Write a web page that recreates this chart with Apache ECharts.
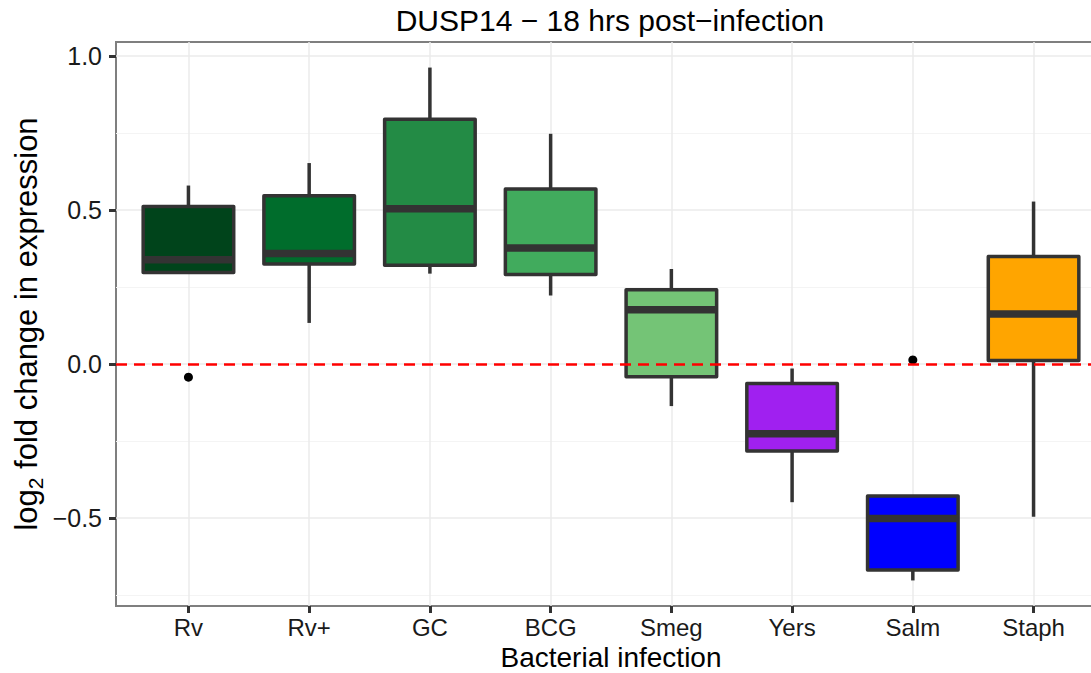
<!DOCTYPE html>
<html>
<head>
<meta charset="utf-8">
<script src="https://cdn.jsdelivr.net/npm/echarts@6/dist/echarts.min.js"></script>
<style>
  html, body { margin: 0; padding: 0; background: #fff; }
  #chart { width: 1091px; height: 673px; }
</style>
</head>
<body>
<div id="chart"></div>
<script>
// Categories and box statistics (log2 fold change)
const categories = ['Rv', 'Rv+', 'GC', 'BCG', 'Smeg', 'Yers', 'Salm', 'Staph'];
const whiskerLow  = [0.297, 0.133, 0.293, 0.222, -0.137, -0.449, -0.703, -0.496];
const quartile1   = [0.297, 0.324, 0.320, 0.290, -0.042, -0.283, -0.669, 0.011];
const medians     = [0.338, 0.358, 0.504, 0.376, 0.176, -0.227, -0.502, 0.162];
const quartile3   = [0.511, 0.546, 0.794, 0.568, 0.241, -0.064, -0.429, 0.349];
const whiskerHigh = [0.579, 0.652, 0.962, 0.747, 0.308, -0.015, -0.429, 0.527];
const boxColors   = ['#00441b', '#006d2c', '#238b45', '#41ab5d', '#74c476', '#a020f0', '#0000ff', '#ffa500'];

// Outlying points: [category index, value]
const outlierCategory = [0, 6];
const outlierValues   = [-0.043, 0.013];

// Axis ticks
const yTickValues = [-0.5, 0, 0.5, 1.0];
const yTickLabels = ['\u22120.5', '0.0', '0.5', '1.0'];
const yMinorValues = [-0.75, -0.25, 0.25, 0.75];
const xTickValues = categories.map((c, i) => i);

const FONT = "'Liberation Sans', Arial, Helvetica, sans-serif";

const boxData = categories.map((c, i) => [i, whiskerLow[i], quartile1[i], medians[i], quartile3[i], whiskerHigh[i]]);
const outlierData = outlierCategory.map((c, i) => [c, outlierValues[i]]);

function renderBox(params, api) {
  const i = api.value(0);
  const halfW = api.size([0.75, 0])[0] / 2;
  const pLow = api.coord([i, api.value(1)]);
  const pQ1 = api.coord([i, api.value(2)]);
  const pMed = api.coord([i, api.value(3)]);
  const pQ3 = api.coord([i, api.value(4)]);
  const pHigh = api.coord([i, api.value(5)]);
  const x = pMed[0];
  const stroke = '#333333';
  return {
    type: 'group',
    children: [
      { type: 'line', shape: { x1: x, y1: pQ3[1], x2: x, y2: pHigh[1] },
        style: { stroke: stroke, lineWidth: 3.5 } },
      { type: 'line', shape: { x1: x, y1: pQ1[1], x2: x, y2: pLow[1] },
        style: { stroke: stroke, lineWidth: 3.5 } },
      { type: 'rect', shape: { x: x - halfW, y: pQ3[1], width: halfW * 2, height: pQ1[1] - pQ3[1] },
        style: { fill: boxColors[params.dataIndex], stroke: stroke, lineWidth: 3.5, lineJoin: 'round' } },
      { type: 'line', shape: { x1: x - halfW, y1: pMed[1], x2: x + halfW, y2: pMed[1] },
        style: { stroke: stroke, lineWidth: 7.5 } }
    ]
  };
}

const chart = echarts.init(document.getElementById('chart'), null, { renderer: 'svg' });
chart.setOption({
  animation: false,
  backgroundColor: '#ffffff',
  title: {
    text: 'DUSP14 \u2212 18 hrs post\u2212infection',
    left: 610, top: 5, padding: 0,
    textAlign: 'center',
    textStyle: { fontFamily: FONT, fontSize: 30, fontWeight: 'normal', color: '#000' }
  },
  grid: {
    left: 116, top: 42, width: 990, height: 564,
    outerBoundsMode: 'none', containLabel: false,
    show: true, borderColor: '#7f7f7f', borderWidth: 2, backgroundColor: '#fff'
  },
  xAxis: {
    type: 'value', min: -0.6, max: 7.6,
    name: 'Bacterial infection', nameLocation: 'middle', nameGap: 38, nameMoveOverlap: false,
    nameTextStyle: { fontFamily: FONT, fontSize: 28, lineHeight: 26, color: '#000' },
    axisLine: { show: false, onZero: false },
    axisTick: { show: true, customValues: xTickValues, length: 7, lineStyle: { color: '#333', width: 3 } },
    axisLabel: { customValues: xTickValues, margin: 9.5, fontFamily: FONT, fontSize: 24, lineHeight: 24,
      color: '#1a1a1a', formatter: v => categories[Math.round(v)] },
    splitLine: { show: true, lineStyle: { color: '#ebebeb', width: 1.5 } }
  },
  yAxis: [{
    type: 'value', min: -0.786, max: 1.045,
    name: '{a|log}{s|2}{a| fold change in expression}', nameLocation: 'middle', nameGap: 70,
    nameMoveOverlap: false,
    nameTextStyle: { fontFamily: FONT, fontSize: 31, color: '#000',
      rich: { a: { fontFamily: FONT, fontSize: 31, color: '#000' },
              s: { fontFamily: FONT, fontSize: 21, color: '#000', padding: [18, 0, 0, 0] } } },
    axisLine: { show: false, onZero: false },
    axisTick: { show: true, customValues: yTickValues, length: 7, lineStyle: { color: '#333', width: 3 } },
    axisLabel: { customValues: yTickValues, margin: 14, fontFamily: FONT, fontSize: 25, color: '#1a1a1a',
      formatter: v => yTickLabels[yTickValues.findIndex(t => Math.abs(t - v) < 1e-6)] },
    splitLine: { show: true, lineStyle: { color: '#ebebeb', width: 1.5 } }
  }, {
    type: 'value', min: -0.786, max: 1.045, position: 'left',
    axisLine: { show: false, onZero: false },
    axisTick: { show: false, customValues: yMinorValues },
    axisLabel: { show: false, customValues: yMinorValues },
    splitLine: { show: true, lineStyle: { color: '#f4f4f4', width: 1.2 } }
  }],
  series: [{
    type: 'custom',
    name: 'boxes',
    renderItem: renderBox,
    encode: { x: 0, y: [1, 2, 3, 4, 5] },
    data: boxData,
    z: 2
  }, {
    type: 'line',
    name: 'zero',
    data: [],
    z: 3,
    markLine: {
      silent: true, symbol: 'none', label: { show: false },
      lineStyle: { color: '#ff0000', width: 2.5, type: [11, 7] },
      data: [{ yAxis: 0 }]
    }
  }, {
    type: 'scatter',
    name: 'outliers',
    data: outlierData,
    symbol: 'circle', symbolSize: 9,
    itemStyle: { color: '#000', opacity: 1 },
    z: 4
  }]
});
</script>
</body>
</html>
